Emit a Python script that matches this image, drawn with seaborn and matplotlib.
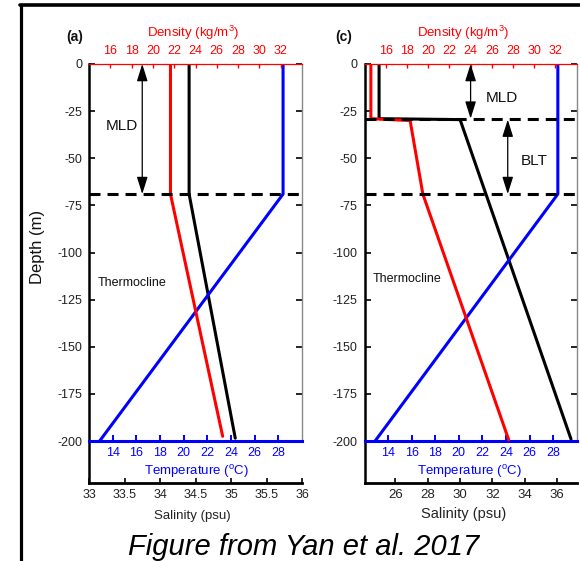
import matplotlib
matplotlib.use("Agg")
import matplotlib.pyplot as plt
import seaborn as sns
from matplotlib.lines import Line2D

sns.set_theme(style="white")
plt.rcParams.update({
    'font.family': ['Liberation Sans', 'DejaVu Sans'],
    'axes.unicode_minus': False,
    'mathtext.fontset': 'custom',
    'mathtext.rm': 'Liberation Sans',
    'mathtext.it': 'Liberation Sans:italic',
    'mathtext.bf': 'Liberation Sans:bold',
    'xtick.direction': 'in',
    'ytick.direction': 'in',
})

# ---------------- data ----------------
depth_ticks = [0, -25, -50, -75, -100, -125, -150, -175, -200]
density_ticks = [16, 18, 20, 22, 24, 26, 28, 30, 32]
temp_ticks = [14, 16, 18, 20, 22, 24, 26, 28]
sal_ticks_a = [33, 33.5, 34, 34.5, 35, 35.5, 36]
sal_ticks_c = [26, 28, 30, 32, 34, 36]

# panel (a)
a_temp = [28.4, 28.4, 12.9]
a_temp_depth = [0, -69, -200]
a_dens = [21.65, 21.65, 26.55]
a_dens_depth = [0, -69, -197.5]
a_sal = [34.41, 34.41, 35.06]
a_sal_depth = [0, -69, -198.5]
a_mld = -69

# panel (c)
c_temp = [28.4, 28.4, 12.9]
c_temp_depth = [0, -69, -200]
c_dens = [14.6, 14.6, 18.3, 19.5, 27.6]
c_dens_depth = [0, -29, -30, -69, -199.5]
c_sal = [25.0, 25.0, 30.0, 36.85]
c_sal_depth = [0, -29, -29.5, -199]
c_mld = -29
c_blt = -69

RED = '#ff0000'
BLUE = '#0000ff'

W, H = 580, 561
fig = plt.figure(figsize=(W / 100, H / 100), dpi=100)
fig.patch.set_facecolor('white')

TOP, BOT, SALBOT = 64, 441, 483


def fx(px):
    return px / W


def fy(py):
    return 1 - py / H


def panel(left, right, sal_lim, sal_ticks, sal_tick_fs, sal_label_fs,
          label_pos, dens, dens_d, temp, temp_d, sal, sal_d):
    wpx = right - left
    # salinity axes (full height down to the lower axis)
    ax_s = fig.add_axes([fx(left), fy(SALBOT), wpx / W, (SALBOT - TOP) / H])
    ax_s.set_facecolor('white')
    ax_s.set_xlim(*sal_lim)
    ax_s.set_ylim(-200 - 200 * (SALBOT - BOT) / (BOT - TOP), 0)
    for s in ['top', 'right']:
        ax_s.spines[s].set_visible(False)
    ax_s.spines['left'].set_color('black')
    ax_s.spines['left'].set_linewidth(1.8)
    ax_s.spines['bottom'].set_color('black')
    ax_s.spines['bottom'].set_linewidth(2.0)
    ax_s.set_yticks([])
    ax_s.set_xticks(sal_ticks)
    ax_s.set_xticklabels([('%g' % v) for v in sal_ticks])
    ax_s.tick_params(axis='x', bottom=True, direction='in', length=3.5,
                     width=1.2, color='black', labelsize=sal_tick_fs, pad=4,
                     labelcolor='#222222')
    sns.lineplot(x=sal, y=sal_d, ax=ax_s, color='black', linewidth=2.2,
                 sort=False, estimator=None)
    ax_s.set_xlabel('Salinity (psu)', fontsize=sal_label_fs, color='#222222')
    ax_s.xaxis.set_label_coords(label_pos['sal'][0], label_pos['sal'][1])
    ax_s.xaxis.label.set_va('center')
    ax_s.set_ylabel('')

    # temperature / depth axes
    ax_t = fig.add_axes([fx(left), fy(BOT), wpx / W, (BOT - TOP) / H])
    ax_t.set_facecolor('none')
    ax_t.set_xlim(12, 30)
    ax_t.set_ylim(-200, 0)
    ax_t.spines['left'].set_visible(False)
    ax_t.spines['top'].set_visible(False)
    ax_t.spines['bottom'].set_color(BLUE)
    ax_t.spines['bottom'].set_linewidth(2.2)
    ax_t.spines['right'].set_color('#888888')
    ax_t.spines['right'].set_linewidth(1.0)
    ax_t.set_yticks(depth_ticks)
    ax_t.set_yticklabels([str(v) for v in depth_ticks])
    ax_t.tick_params(axis='y', left=True, right=True, direction='in',
                     length=4, width=1.2, color='black', labelsize=9,
                     pad=5, labelcolor='#222222')
    ax_t.set_xticks(temp_ticks)
    ax_t.set_xticklabels([str(v) for v in temp_ticks])
    ax_t.tick_params(axis='x', bottom=True, direction='in', length=4,
                     width=1.4, color=BLUE, labelcolor=BLUE, labelsize=9,
                     pad=4)
    sns.lineplot(x=temp, y=temp_d, ax=ax_t, color=BLUE, linewidth=2.2,
                 sort=False, estimator=None)
    ax_t.set_xlabel('Temperature ($^{\\mathrm{o}}$C)', fontsize=9.5,
                    color=BLUE)
    ax_t.xaxis.set_label_coords(label_pos['temp'][0], label_pos['temp'][1])
    ax_t.xaxis.label.set_va('center')
    ax_t.set_ylabel('')

    # density axes on top
    ax_d = ax_t.twiny()
    ax_d.set_xlim(14, 34)
    ax_d.set_ylim(-200, 0)
    for s in ['left', 'right', 'bottom']:
        ax_d.spines[s].set_visible(False)
    ax_d.spines['top'].set_color(RED)
    ax_d.spines['top'].set_linewidth(0.9)
    ax_d.set_xticks(density_ticks)
    ax_d.set_xticklabels([str(v) for v in density_ticks])
    ax_d.tick_params(axis='x', top=True, bottom=False, labeltop=True,
                     labelbottom=False, direction='in', length=3, width=1.0,
                     color=RED, labelcolor=RED, labelsize=9, pad=5)
    sns.lineplot(x=dens, y=dens_d, ax=ax_d, color=RED, linewidth=2.2,
                 sort=False, estimator=None)
    ax_d.set_xlabel('Density (kg/m$^{3}$)', fontsize=9.5, color=RED)
    ax_d.xaxis.set_label_coords(label_pos['dens'][0], label_pos['dens'][1])
    ax_d.xaxis.label.set_va('center')
    ax_d.set_ylabel('')
    return ax_s, ax_t, ax_d


def darrow(ax, x, y0, y1):
    ax.annotate('', xy=(x, y1), xytext=(x, y0),
                arrowprops=dict(arrowstyle='<|-|>,head_length=0.7,head_width=0.22',
                                color='black', lw=0.9, mutation_scale=15,
                                shrinkA=0, shrinkB=0))


def dash(ax, y):
    ax.axhline(y, color='black', lw=2.2, dashes=(3.6, 2.3), zorder=5)


# ---------------- panel (a) ----------------
sa, ta, da = panel(89, 302, (33, 36), sal_ticks_a, 9, 9.5,
                   {'sal': (0.485, -0.079), 'temp': (0.502, -0.081),
                    'dens': (0.49, 1.082)},
                   a_dens, a_dens_depth, a_temp, a_temp_depth, a_sal, a_sal_depth)
dash(da, a_mld)
darrow(da, 19, 0, a_mld)
da.text(15.6, -33, 'MLD', fontsize=11, va='center', ha='left', color='#111111')
da.text(14.8, -116, 'Thermocline', fontsize=9, va='center', ha='left',
        color='#111111')
ta.set_ylabel('Depth (m)', fontsize=12, color='#111111')
ta.yaxis.set_label_coords((45 - 89) / 213, (441 - 247) / 377)

# ---------------- panel (c) ----------------
sc, tc, dc = panel(364.5, 576.7, (24.1, 37.2), sal_ticks_c, 9.5, 10.5,
                   {'sal': (0.465, -0.074), 'temp': (0.493, -0.081),
                    'dens': (0.466, 1.082)},
                   c_dens, c_dens_depth, c_temp, c_temp_depth, c_sal, c_sal_depth)
dash(dc, c_mld)
dash(dc, c_blt)
darrow(dc, 24, 0, c_mld)
darrow(dc, 27.5, c_mld - 0.5, c_blt)
dc.text(25.45, -18, 'MLD', fontsize=11, va='center', ha='left', color='#111111')
dc.text(28.7, -51.3, 'BLT', fontsize=11, va='center', ha='left', color='#111111')
dc.text(14.8, -114, 'Thermocline', fontsize=9, va='center', ha='left',
        color='#111111')

# panel tags
fig.text(fx(74.5), fy(37), '(a)', fontsize=10, fontweight='bold', ha='center',
         va='center', color='#111111')
fig.text(fx(344), fy(37), '(c)', fontsize=10, fontweight='bold', ha='center',
         va='center', color='#111111')

# outer frame
fig.add_artist(Line2D([fx(20.5), fx(20.5)], [fy(5), 0], color='black', lw=2.3,
                      transform=fig.transFigure))
fig.add_artist(Line2D([fx(19.7), 1], [fy(5.2), fy(5.2)], color='black', lw=2.6,
                      transform=fig.transFigure))

# caption
fig.text(fx(304), fy(555), 'Figure from Yan et al. 2017', fontsize=21,
         style='italic', ha='center', va='baseline', color='black')

fig.savefig('out.png', dpi=100)
